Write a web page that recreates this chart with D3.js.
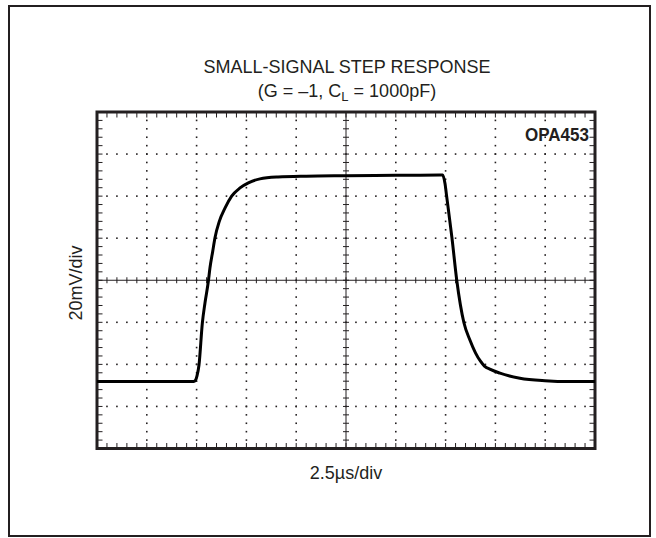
<!DOCTYPE html>
<html>
<head>
<meta charset="utf-8">
<script src="https://cdn.jsdelivr.net/npm/d3@7"></script>
<style>
  html, body { margin: 0; padding: 0; background: #fff; }
  svg text { font-family: "Liberation Sans", Arial, sans-serif; fill: #231f20; }
</style>
</head>
<body>
<svg id="chart" width="656" height="538"></svg>
<script>
// Scope trace: output voltage (mV) versus time (µs)
const timeUs = [0, 4.85, 4.95, 5.02, 5.12, 5.29, 5.42, 5.59, 5.67, 5.81, 5.92, 6.14, 6.43, 6.76, 7.18, 7.6, 8.18, 9.09, 10.5, 12.5, 15, 17.2, 17.35,
                17.47, 17.55, 17.82, 18.06, 18.42, 18.72, 19.0, 19.25, 19.45, 19.75, 20.23, 21.23, 22.49, 23.75, 25];
const outputMv = [-48.2, -48.2, -47.5, -45.5, -40.3, -20.2, -10.8, -0.5, 5.8, 13.8, 20.1, 28, 34.4, 40, 43.9, 46.3, 48.2, 49.1, 49.5, 49.7, 49.9, 50.1, 50.1,
                  46, 40.1, 20.1, 0, -20.2, -28.4, -34.5, -38.5, -40.8, -42.4, -44.2, -46.6, -47.8, -48.2, -48.2];

const titleLines = ["SMALL-SIGNAL STEP RESPONSE", "(G = \u20131, C", "L", " = 1000pF)"];
const deviceLabel = "OPA453";
const xAxisLabel = "2.5\u00b5s/div";
const yAxisLabel = "20mV/div";

const xDivs = 10, yDivs = 8, minorPerDiv = 5;
const usPerDiv = 2.5, mvPerDiv = 20;

const svg = d3.select("#chart");
const plot = { left: 97, right: 595, top: 112, bottom: 448.5 };

const x = d3.scaleLinear().domain([0, xDivs * usPerDiv]).range([plot.left, plot.right]);
const y = d3.scaleLinear().domain([-yDivs / 2 * mvPerDiv, yDivs / 2 * mvPerDiv]).range([plot.bottom, plot.top]);

// Outer frame
svg.append("rect")
  .attr("x", 9).attr("y", 6).attr("width", 641).attr("height", 530)
  .attr("fill", "none").attr("stroke", "#231f20").attr("stroke-width", 2);

// Title
const title = svg.append("g").attr("text-anchor", "middle").attr("font-size", 18);
title.append("text").attr("x", 347).attr("y", 73).text(titleLines[0]);
const sub = title.append("text").attr("x", 347).attr("y", 97);
sub.append("tspan").text(titleLines[1]);
sub.append("tspan").attr("font-size", 13).attr("dy", 4).text(titleLines[2]);
sub.append("tspan").attr("dy", -4).text(titleLines[3]);

// Minor positions in data units
const xMinor = d3.range(0, xDivs * minorPerDiv + 1).map(i => i * usPerDiv / minorPerDiv);
const yMinor = d3.range(0, yDivs * minorPerDiv + 1).map(i => -yDivs / 2 * mvPerDiv + i * mvPerDiv / minorPerDiv);
const xMajor = d3.range(1, xDivs).map(i => i * usPerDiv).filter(v => v !== xDivs * usPerDiv / 2);
const yMajor = d3.range(1, yDivs).map(i => -yDivs / 2 * mvPerDiv + i * mvPerDiv).filter(v => v !== 0);

const grid = svg.append("g").attr("fill", "#231f20");
// Dotted horizontal gridlines
yMajor.forEach(v => {
  grid.selectAll(null).data(xMinor.slice(1, -1)).join("rect")
    .attr("x", d => x(d) - 0.8).attr("y", y(v) - 0.8)
    .attr("width", 1.6).attr("height", 1.6);
});
// Dotted vertical gridlines
xMajor.forEach(v => {
  grid.selectAll(null).data(yMinor.slice(1, -1)).join("rect")
    .attr("x", x(v) - 0.8).attr("y", d => y(d) - 0.8)
    .attr("width", 1.6).attr("height", 1.6);
});

// Center axes with crossing ticks
const axesG = svg.append("g").attr("stroke", "#231f20").attr("stroke-width", 1);
const xc = x(xDivs * usPerDiv / 2), yc = y(0);
axesG.append("line").attr("x1", plot.left).attr("x2", plot.right).attr("y1", yc).attr("y2", yc);
axesG.append("line").attr("x1", xc).attr("x2", xc).attr("y1", plot.top).attr("y2", plot.bottom);
axesG.selectAll(null).data(xMinor).join("line")
  .attr("x1", d => x(d)).attr("x2", d => x(d)).attr("y1", yc - 3).attr("y2", yc + 3);
axesG.selectAll(null).data(yMinor).join("line")
  .attr("y1", d => y(d)).attr("y2", d => y(d)).attr("x1", xc - 3).attr("x2", xc + 3);

// Border ticks pointing inward
const tickLen = 5.5;
axesG.selectAll(null).data(xMinor).join("line")
  .attr("x1", d => x(d)).attr("x2", d => x(d)).attr("y1", plot.top).attr("y2", plot.top + tickLen);
axesG.selectAll(null).data(xMinor).join("line")
  .attr("x1", d => x(d)).attr("x2", d => x(d)).attr("y1", plot.bottom).attr("y2", plot.bottom - tickLen);
axesG.selectAll(null).data(yMinor).join("line")
  .attr("y1", d => y(d)).attr("y2", d => y(d)).attr("x1", plot.left).attr("x2", plot.left + tickLen);
axesG.selectAll(null).data(yMinor).join("line")
  .attr("y1", d => y(d)).attr("y2", d => y(d)).attr("x1", plot.right).attr("x2", plot.right - tickLen);

// Plot border
svg.append("rect")
  .attr("x", plot.left).attr("y", plot.top)
  .attr("width", plot.right - plot.left).attr("height", plot.bottom - plot.top)
  .attr("fill", "none").attr("stroke", "#231f20").attr("stroke-width", 3);

// Trace
const line = d3.line().x((d, i) => x(timeUs[i])).y(d => y(d)).curve(d3.curveMonotoneX);
svg.append("path")
  .attr("d", line(outputMv))
  .attr("fill", "none").attr("stroke", "#000").attr("stroke-width", 3)
  .attr("stroke-linejoin", "round");

// Labels
svg.append("text").attr("x", 589).attr("y", 141).attr("text-anchor", "end")
  .attr("font-size", 18).attr("font-weight", "bold").attr("textLength", 64)
  .attr("lengthAdjust", "spacingAndGlyphs").text(deviceLabel);
svg.append("text").attr("x", 346).attr("y", 479).attr("text-anchor", "middle")
  .attr("font-size", 18).text(xAxisLabel);
svg.append("text").attr("transform", "translate(82,283) rotate(-90)").attr("text-anchor", "middle")
  .attr("font-size", 18).text(yAxisLabel);
</script>
</body>
</html>
